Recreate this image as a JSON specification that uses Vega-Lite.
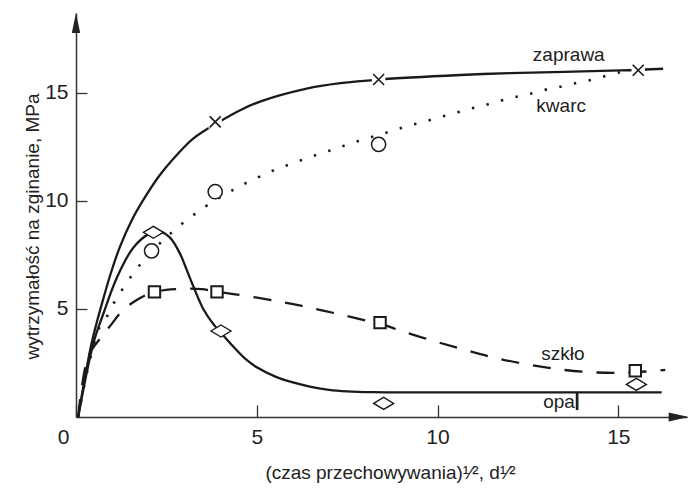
{
  "$schema": "https://vega.github.io/schema/vega-lite/v6.json",
  "width": 611,
  "height": 404,
  "autosize": {"type": "none"},
  "padding": {"left": 76, "top": 13, "right": 3, "bottom": 79},
  "background": "white",
  "config": {
    "view": {"stroke": null},
    "axis": {
      "grid": false,
      "domainColor": "#333",
      "domainWidth": 1.5,
      "tickColor": "#333",
      "tickWidth": 1.3,
      "labelFont": "Liberation Sans Narrow, Liberation Sans",
      "labelFontSize": 21,
      "labelColor": "#222",
      "titleFont": "Liberation Sans",
      "titleFontSize": 19,
      "titleFontWeight": "normal",
      "titleColor": "#222"
    }
  },
  "datasets": {
    "curves": [
      {"series": "zaprawa", "x": 0.06, "y": 0},
      {"series": "zaprawa", "x": 0.43, "y": 3.4},
      {"series": "zaprawa", "x": 0.76, "y": 5.5},
      {"series": "zaprawa", "x": 1.0, "y": 6.85},
      {"series": "zaprawa", "x": 1.22, "y": 7.9},
      {"series": "zaprawa", "x": 1.54, "y": 9.1},
      {"series": "zaprawa", "x": 1.9, "y": 10.15},
      {"series": "zaprawa", "x": 2.32, "y": 11.2},
      {"series": "zaprawa", "x": 2.8, "y": 12.15},
      {"series": "zaprawa", "x": 3.25, "y": 12.9},
      {"series": "zaprawa", "x": 3.97, "y": 13.67},
      {"series": "zaprawa", "x": 4.54, "y": 14.2},
      {"series": "zaprawa", "x": 5.09, "y": 14.6},
      {"series": "zaprawa", "x": 6.38, "y": 15.2},
      {"series": "zaprawa", "x": 7.31, "y": 15.45},
      {"series": "zaprawa", "x": 8.37, "y": 15.62},
      {"series": "zaprawa", "x": 10.63, "y": 15.83},
      {"series": "zaprawa", "x": 12.0, "y": 15.92},
      {"series": "zaprawa", "x": 15.06, "y": 16.04},
      {"series": "zaprawa", "x": 16.24, "y": 16.12},
      {"series": "opal", "x": 0.06, "y": 0},
      {"series": "opal", "x": 0.48, "y": 3.41},
      {"series": "opal", "x": 0.76, "y": 4.8},
      {"series": "opal", "x": 1.13, "y": 6.45},
      {"series": "opal", "x": 1.59, "y": 7.85},
      {"series": "opal", "x": 2.05, "y": 8.5},
      {"series": "opal", "x": 2.32, "y": 8.58},
      {"series": "opal", "x": 2.6, "y": 8.3},
      {"series": "opal", "x": 2.88, "y": 7.55},
      {"series": "opal", "x": 3.06, "y": 6.82},
      {"series": "opal", "x": 3.25, "y": 6.03},
      {"series": "opal", "x": 3.52, "y": 5.0},
      {"series": "opal", "x": 3.8, "y": 4.3},
      {"series": "opal", "x": 4.01, "y": 3.9},
      {"series": "opal", "x": 4.35, "y": 3.26},
      {"series": "opal", "x": 4.72, "y": 2.64},
      {"series": "opal", "x": 5.0, "y": 2.3},
      {"series": "opal", "x": 5.5, "y": 1.88},
      {"series": "opal", "x": 6.0, "y": 1.6},
      {"series": "opal", "x": 6.5, "y": 1.4},
      {"series": "opal", "x": 7.0, "y": 1.26},
      {"series": "opal", "x": 7.5, "y": 1.19},
      {"series": "opal", "x": 8.2, "y": 1.15},
      {"series": "opal", "x": 9.0, "y": 1.14},
      {"series": "opal", "x": 16.2, "y": 1.14},
      {"series": "kwarc", "x": 0.06, "y": 0},
      {"series": "kwarc", "x": 0.35, "y": 2.4},
      {"series": "kwarc", "x": 0.66, "y": 4.18},
      {"series": "kwarc", "x": 0.85, "y": 4.64},
      {"series": "kwarc", "x": 1.03, "y": 5.23},
      {"series": "kwarc", "x": 1.26, "y": 5.85},
      {"series": "kwarc", "x": 1.49, "y": 6.42},
      {"series": "kwarc", "x": 1.74, "y": 6.99},
      {"series": "kwarc", "x": 2.32, "y": 8.04},
      {"series": "kwarc", "x": 2.62, "y": 8.5},
      {"series": "kwarc", "x": 2.95, "y": 8.97},
      {"series": "kwarc", "x": 3.29, "y": 9.4},
      {"series": "kwarc", "x": 3.64, "y": 9.81},
      {"series": "kwarc", "x": 4.37, "y": 10.54},
      {"series": "kwarc", "x": 4.75, "y": 10.87},
      {"series": "kwarc", "x": 5.14, "y": 11.17},
      {"series": "kwarc", "x": 5.54, "y": 11.47},
      {"series": "kwarc", "x": 5.94, "y": 11.71},
      {"series": "kwarc", "x": 6.35, "y": 11.96},
      {"series": "kwarc", "x": 6.75, "y": 12.19},
      {"series": "kwarc", "x": 7.17, "y": 12.41},
      {"series": "kwarc", "x": 7.56, "y": 12.64},
      {"series": "kwarc", "x": 7.98, "y": 12.86},
      {"series": "kwarc", "x": 8.39, "y": 13.06},
      {"series": "kwarc", "x": 8.8, "y": 13.27},
      {"series": "kwarc", "x": 9.22, "y": 13.49},
      {"series": "kwarc", "x": 9.63, "y": 13.67},
      {"series": "kwarc", "x": 10.05, "y": 13.87},
      {"series": "kwarc", "x": 10.46, "y": 14.06},
      {"series": "kwarc", "x": 10.89, "y": 14.26},
      {"series": "kwarc", "x": 11.3, "y": 14.43},
      {"series": "kwarc", "x": 11.72, "y": 14.63},
      {"series": "kwarc", "x": 12.13, "y": 14.8},
      {"series": "kwarc", "x": 12.55, "y": 14.95},
      {"series": "kwarc", "x": 12.96, "y": 15.14},
      {"series": "kwarc", "x": 13.4, "y": 15.29},
      {"series": "kwarc", "x": 13.81, "y": 15.45},
      {"series": "kwarc", "x": 14.24, "y": 15.6},
      {"series": "kwarc", "x": 14.66, "y": 15.79},
      {"series": "kwarc", "x": 15.08, "y": 15.97},
      {"series": "kwarc", "x": 15.4, "y": 16.04},
      {"series": "szkło", "x": 0.06, "y": 0},
      {"series": "szkło", "x": 0.34, "y": 2.8},
      {"series": "szkło", "x": 0.71, "y": 3.72},
      {"series": "szkło", "x": 0.99, "y": 4.31},
      {"series": "szkło", "x": 1.26, "y": 4.88},
      {"series": "szkło", "x": 1.68, "y": 5.42},
      {"series": "szkło", "x": 2.17, "y": 5.79},
      {"series": "szkło", "x": 2.99, "y": 5.94},
      {"series": "szkło", "x": 3.48, "y": 5.92},
      {"series": "szkło", "x": 3.9, "y": 5.8},
      {"series": "szkło", "x": 4.4, "y": 5.68},
      {"series": "szkło", "x": 5.09, "y": 5.5},
      {"series": "szkło", "x": 5.74, "y": 5.31},
      {"series": "szkło", "x": 6.25, "y": 5.14},
      {"series": "szkło", "x": 7.17, "y": 4.8},
      {"series": "szkło", "x": 8.05, "y": 4.45},
      {"series": "szkło", "x": 8.41, "y": 4.32},
      {"series": "szkło", "x": 8.97, "y": 4.0},
      {"series": "szkło", "x": 9.87, "y": 3.53},
      {"series": "szkło", "x": 10.77, "y": 3.1},
      {"series": "szkło", "x": 11.64, "y": 2.72},
      {"series": "szkło", "x": 12.57, "y": 2.41},
      {"series": "szkło", "x": 13.49, "y": 2.18},
      {"series": "szkło", "x": 14.41, "y": 2.06},
      {"series": "szkło", "x": 15.33, "y": 2.06},
      {"series": "szkło", "x": 16.3, "y": 2.18}
    ],
    "points": [
      {"series": "zaprawa", "x": 3.85, "y": 13.66},
      {"series": "zaprawa", "x": 8.37, "y": 15.62},
      {"series": "zaprawa", "x": 15.55, "y": 16.05},
      {"series": "kwarc", "x": 2.09, "y": 7.69},
      {"series": "kwarc", "x": 3.85, "y": 10.43},
      {"series": "kwarc", "x": 8.37, "y": 12.62},
      {"series": "szkło", "x": 2.17, "y": 5.79},
      {"series": "szkło", "x": 3.9, "y": 5.79},
      {"series": "szkło", "x": 8.41, "y": 4.37},
      {"series": "szkło", "x": 15.47, "y": 2.14},
      {"series": "opal", "x": 2.14, "y": 8.55},
      {"series": "opal", "x": 4.01, "y": 3.98},
      {"series": "opal", "x": 8.51, "y": 0.63},
      {"series": "opal", "x": 15.5, "y": 1.51}
    ],
    "labels": [
      {"text": "zaprawa", "x": 13.63, "y": 16.5},
      {"text": "kwarc", "x": 13.42, "y": 14.13},
      {"text": "szkło", "x": 13.47, "y": 2.64},
      {"text": "opal", "x": 13.42, "y": 0.42}
    ],
    "leader": [
      {"x": 13.86, "y": 1.15, "y2": 0.32}
    ],
    "arrowY": [{"x": 0, "y": 18.24}],
    "arrowX": [{"x": 16.67, "y": 0}]
  },
  "data": {"name": "curves"},
  "encoding": {
    "x": {
      "field": "x",
      "type": "quantitative",
      "scale": {"domain": [0, 16.9], "nice": false, "zero": false}
    },
    "y": {
      "field": "y",
      "type": "quantitative",
      "scale": {"domain": [0, 18.7], "nice": false, "zero": false}
    }
  },
  "layer": [
    {
      "transform": [{"filter": "datum.series === 'zaprawa' || datum.series === 'opal'"}],
      "mark": {"type": "line", "interpolate": "catmull-rom", "color": "#1a1a1a", "strokeWidth": 2.3},
      "encoding": {
        "detail": {"field": "series"},
        "x": {
          "field": "x",
          "type": "quantitative",
          "axis": {
            "values": [0, 5, 10, 15],
            "tickSize": -12,
            "labelPadding": 21,
            "labelFlush": false,
            "labelOffset": {"condition": {"test": "datum.value === 0", "value": -13}, "value": 0},
            "title": "(czas przechowywania)¹⁄²,  d¹⁄²",
            "titleX": 314,
            "titleY": 61,
            "titleAlign": "center",
            "titleBaseline": "alphabetic"
          }
        },
        "y": {
          "field": "y",
          "type": "quantitative",
          "axis": {
            "values": [5, 10, 15],
            "tickSize": -11,
            "labelPadding": 19,
            "labelFlush": false,
            "title": "wytrzymałość na zginanie, MPa",
            "titleX": -38,
            "titleY": 213,
            "titleAngle": -90,
            "titleAlign": "center",
            "titleBaseline": "alphabetic"
          }
        }
      }
    },
    {
      "transform": [{"filter": "datum.series === 'kwarc'"}],
      "mark": {"type": "line", "interpolate": "catmull-rom", "color": "#1a1a1a", "strokeWidth": 2.6, "strokeDash": [2.4, 12.6]}
    },
    {
      "transform": [{"filter": "datum.series === 'szkło'"}],
      "mark": {"type": "line", "interpolate": "catmull-rom", "color": "#1a1a1a", "strokeWidth": 2.3, "strokeDash": [18, 14]}
    },
    {
      "data": {"name": "points"},
      "transform": [{"filter": "datum.series === 'zaprawa'"}],
      "mark": {"type": "point", "shape": "square", "size": 180, "filled": true, "color": "white", "opacity": 1}
    },
    {
      "data": {"name": "points"},
      "transform": [{"filter": "datum.series === 'zaprawa'"}],
      "mark": {"type": "point", "shape": "M-1,-1L1,1M-1,1L1,-1", "size": 121, "filled": false, "stroke": "#1a1a1a", "strokeWidth": 1.6, "opacity": 1}
    },
    {
      "data": {"name": "points"},
      "transform": [{"filter": "datum.series === 'kwarc'"}],
      "mark": {"type": "point", "shape": "circle", "size": 200, "fill": "white", "stroke": "#1a1a1a", "strokeWidth": 1.5, "opacity": 1}
    },
    {
      "data": {"name": "points"},
      "transform": [{"filter": "datum.series === 'szkło'"}],
      "mark": {"type": "point", "shape": "square", "size": 130, "fill": "white", "stroke": "#1a1a1a", "strokeWidth": 2, "opacity": 1}
    },
    {
      "data": {"name": "points"},
      "transform": [{"filter": "datum.series === 'opal'"}],
      "mark": {"type": "point", "shape": "M-1,0L0,-0.6L1,0L0,0.6Z", "size": 400, "fill": "white", "stroke": "#1a1a1a", "strokeWidth": 1.4, "opacity": 1}
    },
    {
      "data": {"name": "leader"},
      "mark": {"type": "rule", "color": "#1a1a1a", "strokeWidth": 2.6},
      "encoding": {"y2": {"field": "y2"}}
    },
    {
      "data": {"name": "labels"},
      "mark": {"type": "text", "font": "Liberation Sans", "fontSize": 19, "color": "#222", "align": "center", "baseline": "alphabetic"},
      "encoding": {"text": {"field": "text"}}
    },
    {
      "data": {"name": "arrowY"},
      "mark": {"type": "point", "shape": "M0,-1L0.42,1L-0.42,1Z", "size": 400, "filled": true, "color": "#222", "opacity": 1}
    },
    {
      "data": {"name": "arrowX"},
      "mark": {"type": "point", "shape": "M1,0L-1,0.45L-1,-0.45Z", "size": 400, "filled": true, "color": "#222", "opacity": 1}
    }
  ]
}
